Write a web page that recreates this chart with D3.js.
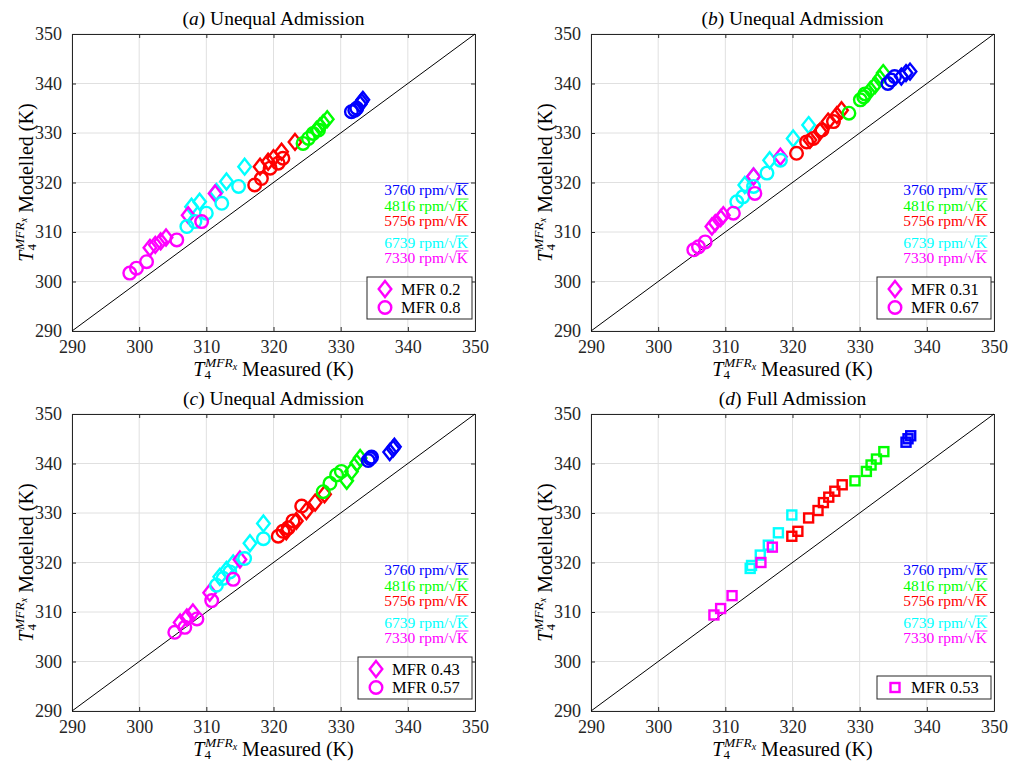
<!DOCTYPE html>
<html>
<head>
<meta charset="utf-8">
<script src="https://cdn.jsdelivr.net/npm/d3@7"></script>
<style>
  body { margin: 0; background: #fff; }
  svg text { font-family: "Liberation Serif", "Times New Roman", serif; }
</style>
</head>
<body>
<div id="chart"></div>
<script>
// speed lines, colours follow the order of these
var speeds = [3760, 4816, 5756, 6739, 7330];
var speedColours = ["#0000ff", "#00ff00", "#ff0000", "#00ffff", "#ff00ff"];
var axisTicks = [290, 300, 310, 320, 330, 340, 350];

// (a) MFR 0.2 diamonds / MFR 0.8 circles  -- [blue, green, red, cyan, magenta]
var aDiaMeas = [[332.9, 333.1, 333.3], [326.4, 326.9, 327.4, 328.0], [318.0, 319.2, 320.0, 321.2, 323.2], [307.8, 309.0, 311.5, 313.0, 315.7], [301.6, 302.4, 303.2, 304.0, 307.3, 311.3]];
var aDiaMod  = [[335.8, 336.3, 336.7], [330.6, 331.3, 332.0, 332.8], [323.2, 324.2, 324.9, 326.2, 328.2], [315.1, 316.1, 318.1, 320.2, 323.2], [306.8, 307.4, 308.1, 308.9, 313.4, 317.8]];
var aCirMeas = [[331.6, 332.1, 332.4], [324.4, 325.2, 325.9, 326.7], [317.2, 318.2, 319.5, 320.7, 321.4], [307.1, 308.3, 310.0, 312.3, 314.8], [298.6, 299.6, 301.1, 305.6, 309.3]];
var aCirMod  = [[334.3, 334.6, 335.0], [327.9, 328.9, 329.9, 330.6], [319.5, 320.8, 322.9, 323.9, 324.9], [311.1, 312.1, 313.8, 315.8, 319.2], [301.7, 302.7, 304.0, 308.4, 312.1]];

// (b) MFR 0.31 diamonds / MFR 0.67 circles
var bDiaMeas = [[336.2, 336.9, 337.5], [331.6, 332.3, 333.0, 333.5], [322.6, 324.1, 325.3, 326.6, 327.3], [312.9, 314.2, 316.6, 320.1, 322.4], [308.0, 308.5, 309.3, 309.7, 314.2, 318.2]];
var bDiaMod  = [[341.4, 342.1, 342.4], [338.7, 339.7, 341.0, 342.1], [328.6, 330.3, 332.3, 333.6, 334.6], [319.5, 321.2, 324.5, 328.9, 331.6], [311.1, 311.8, 312.8, 313.4, 321.2, 325.2]];
var bCirMeas = [[334.2, 334.7, 335.2], [328.4, 330.1, 330.6, 330.8], [320.6, 322.1, 323.1, 324.4, 326.1], [311.7, 312.6, 314.2, 316.2, 318.2], [305.3, 306.0, 307.0, 311.2, 314.4]];
var bCirMod  = [[340.0, 340.7, 341.4], [334.0, 336.7, 337.3, 337.9], [325.9, 328.2, 328.9, 330.6, 332.3], [316.1, 317.1, 319.2, 321.9, 324.5], [306.4, 307.0, 308.0, 313.8, 317.8]];

// (c) MFR 0.43 diamonds / MFR 0.57 circles
var cDiaMeas = [[337.3, 337.8, 338.0], [330.9, 331.6, 332.4, 332.9], [321.9, 323.4, 324.9, 326.2, 327.6], [312.0, 313.0, 314.0, 316.5, 318.5], [306.1, 307.1, 308.0, 310.5, 315.0]];
var cDiaMod  = [[342.3, 343.0, 343.4], [336.5, 338.4, 340.1, 341.1], [326.3, 328.4, 330.4, 332.1, 333.8], [317.1, 318.5, 319.8, 323.9, 327.9], [307.9, 308.9, 309.9, 313.9, 320.6]];
var cCirMeas = [[334.1, 334.4, 334.6], [327.4, 328.4, 329.4, 330.1], [320.7, 321.4, 322.2, 322.9, 324.2], [311.5, 312.5, 313.5, 315.7, 318.5], [305.3, 306.8, 308.6, 310.8, 314.0]];
var cCirMod  = [[340.6, 341.0, 341.3], [334.3, 336.0, 337.7, 338.4], [325.3, 326.3, 327.0, 328.4, 331.4], [315.4, 316.8, 318.1, 320.8, 324.8], [305.9, 306.9, 308.6, 312.3, 316.6]];

// (d) full admission, MFR 0.53 squares
var dSqrMeas = [[336.9, 337.2, 337.6], [329.3, 331.0, 331.7, 332.5, 333.6], [319.9, 320.8, 322.4, 323.8, 324.6, 325.4, 326.3, 327.4], [313.7, 313.9, 315.2, 316.4, 317.9, 319.9], [308.3, 309.3, 311.0, 315.3, 317.0]];
var dSqrMod  = [[344.3, 345.0, 345.6], [336.5, 338.4, 339.7, 340.9, 342.4], [325.3, 326.3, 329.0, 330.5, 332.1, 333.2, 334.4, 335.7], [318.8, 319.4, 321.5, 323.5, 326.0, 329.6], [309.4, 310.7, 313.3, 320.0, 323.1]];

var panels = [
  {tag: "a", title: "Unequal Admission", left: 72, top: 34,
   sets: [{shape: "diamond", label: "MFR 0.2", meas: aDiaMeas, mod: aDiaMod}, {shape: "circle", label: "MFR 0.8", meas: aCirMeas, mod: aCirMod}]},
  {tag: "b", title: "Unequal Admission", left: 591, top: 34,
   sets: [{shape: "diamond", label: "MFR 0.31", meas: bDiaMeas, mod: bDiaMod}, {shape: "circle", label: "MFR 0.67", meas: bCirMeas, mod: bCirMod}]},
  {tag: "c", title: "Unequal Admission", left: 72, top: 414,
   sets: [{shape: "diamond", label: "MFR 0.43", meas: cDiaMeas, mod: cDiaMod}, {shape: "circle", label: "MFR 0.57", meas: cCirMeas, mod: cCirMod}]},
  {tag: "d", title: "Full Admission", left: 591, top: 414,
   sets: [{shape: "square", label: "MFR 0.53", meas: dSqrMeas, mod: dSqrMod}]}
];

var W = 1010, H = 762, pw = 403, ph = 297;
var axisCol = "#262626";
var serif = "'Liberation Serif', 'Times New Roman', serif";

var svg = d3.select("#chart").append("svg")
    .attr("width", W).attr("height", H);

function drawMarker(g, shape, cx, cy, col) {
  if (shape === "circle") {
    g.append("circle").attr("cx", cx).attr("cy", cy).attr("r", 6.3)
      .attr("fill", "none").attr("stroke", col).attr("stroke-width", 2.4);
  } else if (shape === "diamond") {
    g.append("path")
      .attr("d", "M" + cx + "," + (cy - 8) + "L" + (cx + 6.3) + "," + cy + "L" + cx + "," + (cy + 8) + "L" + (cx - 6.3) + "," + cy + "Z")
      .attr("fill", "none").attr("stroke", col).attr("stroke-width", 2.4);
  } else {
    g.append("rect").attr("x", cx - 4.5).attr("y", cy - 4.5).attr("width", 9).attr("height", 9)
      .attr("fill", "none").attr("stroke", col).attr("stroke-width", 2.4);
  }
}

// T_4^{MFR_x} followed by a word
function tLabel(sel, word) {
  sel.append("tspan").attr("font-style", "italic").text("T");
  sel.append("tspan").attr("font-size", 13).attr("dy", 3).text("4");
  sel.append("tspan").attr("font-size", 13.5).attr("font-style", "italic").attr("dx", -6).attr("dy", -12).text("MFR");
  sel.append("tspan").attr("font-size", 10).attr("font-style", "italic").attr("dy", 3).text("x");
  sel.append("tspan").attr("dy", 6).text("\u00A0" + word);
}

panels.forEach(function(p) {
  var x = d3.scaleLinear().domain([290, 350]).range([0, pw]);
  var y = d3.scaleLinear().domain([290, 350]).range([ph, 0]);

  var g = svg.append("g").attr("transform", "translate(" + p.left + "," + p.top + ")");

  // grid
  g.append("g").selectAll("line.gx").data(axisTicks).enter().append("line")
    .attr("x1", function(d) { return x(d); }).attr("x2", function(d) { return x(d); })
    .attr("y1", 0).attr("y2", ph).attr("stroke", "#e0e0e0").attr("stroke-width", 1);
  g.append("g").selectAll("line.gy").data(axisTicks).enter().append("line")
    .attr("y1", function(d) { return y(d); }).attr("y2", function(d) { return y(d); })
    .attr("x1", 0).attr("x2", pw).attr("stroke", "#e0e0e0").attr("stroke-width", 1);

  // axes (ticks inward on all four sides)
  var ax = [
    g.append("g").attr("transform", "translate(0," + ph + ")").call(d3.axisBottom(x).tickValues(axisTicks).tickSizeInner(-4).tickSizeOuter(0).tickPadding(9)),
    g.append("g").call(d3.axisLeft(y).tickValues(axisTicks).tickSizeInner(-4).tickSizeOuter(0).tickPadding(10)),
    g.append("g").call(d3.axisTop(x).tickValues(axisTicks).tickSizeInner(-4).tickSizeOuter(0).tickFormat("")),
    g.append("g").attr("transform", "translate(" + pw + ",0)").call(d3.axisRight(y).tickValues(axisTicks).tickSizeInner(-4).tickSizeOuter(0).tickFormat(""))
  ];
  ax.forEach(function(a) {
    a.attr("font-family", serif);
    a.select(".domain").attr("stroke", axisCol);
    a.selectAll(".tick line").attr("stroke", axisCol);
    a.selectAll("text").attr("fill", axisCol).style("font-size", "18px").style("font-family", serif);
  });

  // y = x reference line
  g.append("line")
    .attr("x1", x(290)).attr("y1", y(290)).attr("x2", x(350)).attr("y2", y(350))
    .attr("stroke", "#000").attr("stroke-width", 1);

  // data markers
  var mg = g.append("g");
  p.sets.forEach(function(s) {
    s.meas.forEach(function(arr, si) {
      arr.forEach(function(v, i) {
        drawMarker(mg, s.shape, x(v), y(s.mod[si][i]), speedColours[si]);
      });
    });
  });

  // title
  var t = g.append("text").attr("x", pw / 2).attr("y", -9).attr("text-anchor", "middle")
    .attr("font-size", 19.5).attr("fill", "#000");
  t.append("tspan").text("(");
  t.append("tspan").attr("font-style", "italic").text(p.tag);
  t.append("tspan").text(")\u00A0" + p.title);

  // axis labels
  var xl = g.append("text").attr("x", pw / 2).attr("y", ph + 45).attr("text-anchor", "middle")
    .attr("font-size", 20).attr("fill", "#000");
  tLabel(xl, "Measured (K)");
  var yl = g.append("text").attr("transform", "translate(-39," + (ph / 2) + ") rotate(-90)")
    .attr("text-anchor", "middle").attr("font-size", 20).attr("fill", "#000");
  tLabel(yl, "Modelled (K)");

  // speed labels, with a bar over the K for the square root
  var speedY = [161, 176.5, 192, 213.5, 228.5];
  var fs = 15.5;
  speeds.forEach(function(sp, i) {
    var st = g.append("text").attr("x", pw - 7).attr("y", speedY[i]).attr("text-anchor", "end")
      .attr("font-size", fs).attr("fill", speedColours[i])
      .text(sp + "\u00A0rpm/\u221AK");
    var node = st.node();
    var n = node.getNumberOfChars();
    var kBox = node.getExtentOfChar(n - 1);
    var rBox = node.getExtentOfChar(n - 2);
    g.append("line")
      .attr("x1", rBox.x + rBox.width - 1).attr("x2", kBox.x + kBox.width + 0.5)
      .attr("y1", speedY[i] - fs * 0.74).attr("y2", speedY[i] - fs * 0.74)
      .attr("stroke", speedColours[i]).attr("stroke-width", 0.9);
  });

  // marker legend box
  var rows = p.sets.length;
  var boxH = rows === 2 ? 42 : 23;
  var boxW = p.sets[0].label.length > 7 ? 114 : 105;
  var bx = pw - 3 - boxW, by = ph - 12 - boxH;
  var lg = g.append("g").attr("transform", "translate(" + bx + "," + by + ")");
  lg.append("rect").attr("width", boxW).attr("height", boxH)
    .attr("fill", "#fff").attr("stroke", axisCol).attr("stroke-width", 1);
  p.sets.forEach(function(s, i) {
    var cy = rows === 2 ? 12 + i * 18.5 : 11.5;
    drawMarker(lg, s.shape, 18, cy, "#ff00ff");
    lg.append("text").attr("x", 34).attr("y", cy + 5.5).attr("font-size", 16.5).attr("fill", "#000").text(s.label);
  });
});
</script>
</body>
</html>
